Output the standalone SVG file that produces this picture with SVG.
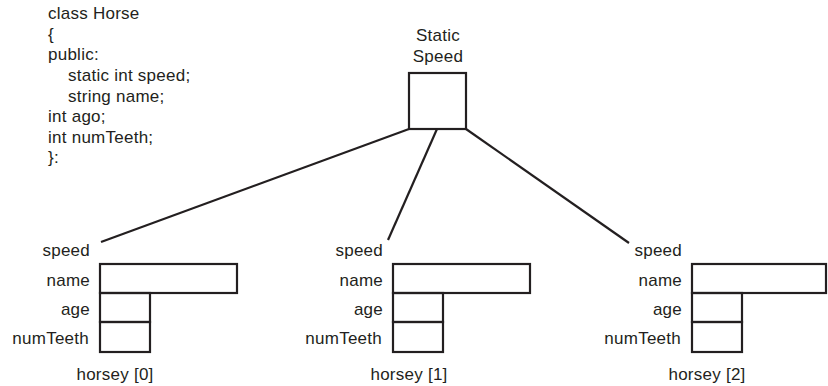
<svg xmlns="http://www.w3.org/2000/svg" width="828" height="386" viewBox="0 0 828 386">
<style>
text{font-family:"Liberation Sans",Arial,sans-serif;font-size:17px;letter-spacing:0.25px;fill:#231f20}
.r{text-anchor:end}
.m{text-anchor:middle}
.b{fill:none;stroke:#231f20;stroke-width:2.2}
.c{stroke:#231f20;stroke-width:2.2;fill:none}
</style>
<rect width="828" height="386" fill="#fff"/>
<g id="code">
<text x="48" y="19">class Horse</text>
<text x="48" y="40">{</text>
<text x="48" y="60">public:</text>
<text x="68" y="81">static int speed;</text>
<text x="68" y="102">string name;</text>
<text x="48" y="122">int ago;</text>
<text x="48" y="143">int numTeeth;</text>
<text x="48" y="163">}:</text>
</g>
<g id="static-speed">
<text class="m" x="438" y="41">Static</text>
<text class="m" x="438" y="62">Speed</text>
<rect class="b" x="409" y="73" width="57" height="56"/>
</g>
<g id="connectors">
<line class="c" x1="409" y1="129" x2="101" y2="242"/>
<line class="c" x1="437" y1="129" x2="388" y2="240"/>
<line class="c" x1="466" y1="129" x2="629" y2="243"/>
</g>
<g id="horsey0">
<text class="r" x="90" y="256">speed</text>
<text class="r" x="90" y="286">name</text>
<text class="r" x="90" y="315">age</text>
<text class="r" x="89" y="344">numTeeth</text>
<rect class="b" x="100" y="264" width="137" height="29"/>
<rect class="b" x="100" y="293" width="50" height="29"/>
<rect class="b" x="100" y="322" width="50" height="30"/>
<text class="m" x="115" y="380">horsey [0]</text>
</g>
<g id="horsey1">
<text class="r" x="383" y="256">speed</text>
<text class="r" x="383" y="286">name</text>
<text class="r" x="383" y="315">age</text>
<text class="r" x="382" y="344">numTeeth</text>
<rect class="b" x="393" y="264" width="137" height="29"/>
<rect class="b" x="393" y="293" width="50" height="29"/>
<rect class="b" x="393" y="322" width="50" height="30"/>
<text class="m" x="409" y="380">horsey [1]</text>
</g>
<g id="horsey2">
<text class="r" x="682" y="256">speed</text>
<text class="r" x="682" y="286">name</text>
<text class="r" x="682" y="315">age</text>
<text class="r" x="681" y="344">numTeeth</text>
<rect class="b" x="692" y="264" width="134" height="29"/>
<rect class="b" x="692" y="293" width="50" height="29"/>
<rect class="b" x="692" y="322" width="50" height="30"/>
<text class="m" x="707" y="380">horsey [2]</text>
</g>
</svg>
